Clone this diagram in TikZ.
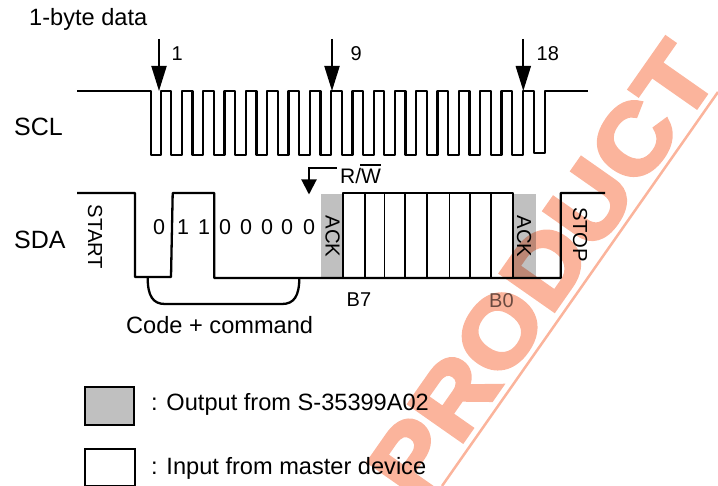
\documentclass[tikz,border=0pt]{standalone}
\usepackage{fontspec}
\setmainfont{Liberation Sans}
\newfontfamily\wmfont[FakeBold=4]{Liberation Sans Bold}
\usetikzlibrary{arrows.meta}
\definecolor{wm}{HTML}{FBB49C}
\definecolor{ackgrey}{HTML}{C0C0C0}
\definecolor{tinted}{HTML}{6B4A40}
\newcommand{\fsz}[1]{\fontsize{#1}{#1}\selectfont}
\tikzset{
  wave/.style={draw=black,line width=2.3pt,line join=round},
  slot/.style={draw=black,line width=1.6pt},
  dnarrow/.style={draw=black,line width=2pt,-{Triangle[length=25pt,width=15pt]}},
  rwarrow/.style={draw=black,line width=2pt,-{Triangle[length=15pt,width=15pt]}},
  lab/.style={inner sep=0pt,anchor=base west,text=black},
  big/.style={lab,font=\fsz{25}},
  mid/.style={lab,font=\fsz{23.6}},
  small/.style={lab,font=\fsz{20}},
  digit/.style={inner sep=0pt,anchor=base,font=\fsz{21.5}},
  vert/.style={inner sep=0pt,rotate=-90,font=\fsz{20.3}},
  wmtext/.style={inner sep=0pt,anchor=base east,rotate=55,text=wm,font=\wmfont\fsz{95},xscale=1.12},
  wmline/.style={draw=wm,line width=2.5pt},
}
\begin{document}
\begin{tikzpicture}[x=1pt,y=-1pt]
\useasboundingbox (0,0) rectangle (718,486);
% watermark
\node[wmtext] (wmark) at (720,74) {PRODUCT};
\coordinate (wl1) at (442,486); \coordinate (wl2) at (718,92);
\draw[wmline] (wl1) -- (wl2);
% grey ACK areas
\begin{scope}[blend mode=multiply]
\fill[ackgrey] (321,194) rectangle (343,278);
\fill[ackgrey] (513,194) rectangle (535.7,278);
\end{scope}
\begin{scope}[blend mode=normal]
% SCL waveform
\draw[wave] (77,91) -- (150.7,91) -- (150.7,155) -- (160.7,155) -- (160.7,91)
  foreach \k in {0,...,16} { -- ({171.3+21.3*\k},91) -- ({171.3+21.3*\k},155) -- ({182+21.3*\k},155) -- ({182+21.3*\k},91) }
  -- (534,91) -- (534,153) -- (545,153) -- (545,91) -- (588,91);
% SDA waveform
\draw[wave] (77,193) -- (135,193) -- (135,277) -- (171,277) -- (172.7,193) -- (214.3,193) -- (214.3,278) -- (560.7,278) -- (560.7,193) -- (605,193);
% data box
\draw[wave] (342.7,278) -- (342.7,193.3) -- (513.3,193.3) -- (513.3,278);
\foreach \x in {364.7,384.3,405,426.7,449.3,469.7,491}
  \draw[slot] (\x,193.3) -- (\x,278);
% clock arrows
\coordinate (a1s) at (159,39); \coordinate (a1e) at (159,91);
\coordinate (a9s) at (332,39); \coordinate (a9e) at (332,91);
\coordinate (a18s) at (523.3,39); \coordinate (a18e) at (523.3,91);
\draw[dnarrow] (a1s) -- (a1e);
\draw[dnarrow] (a9s) -- (a9e);
\draw[dnarrow] (a18s) -- (a18e);
% R/W arrow
\coordinate (rws) at (336.7,168.3); \coordinate (rwe) at (309,194.5);
\draw[rwarrow] (rws) -| (rwe);
% bracket
\coordinate (brl) at (147.7,278); \coordinate (brr) at (299.3,278);
\draw[wave] (brl) .. controls (147.7,296) and (153,304) .. (165,304) -- (282,304) .. controls (294,304) and (299.3,296) .. (brr);
% labels
\node[mid] (title) at (29,26) {1-byte data};
\node[small] (n1) at (171.5,60.7) {1};
\node[small] (n9) at (350.5,60.7) {9};
\node[small] (n18) at (536.5,60.7) {18};
\node[big] (scl) at (14,136) {SCL};
\node[big] (sda) at (14,249) {SDA};
\node[vert] (start) at (95,237) {START};
\node[vert] (ack1) at (332.7,236.5) {ACK};
\node[vert] (ack2) at (524,236.5) {ACK};
\node[vert] (stop) at (580,234.7) {STOP};
\foreach \x/\t/\n in {159/0/d1,183/1/d2,204/1/d3,225/0/d4,246/0/d5,267/0/d6,287/0/d7,309/0/d8}
  \node[digit] (\n) at (\x,235) {\t};
\node[small,font=\fsz{21}] (rw) at (340,184) {R/W};
\coordinate (ol) at (360,165); \coordinate (or) at (381,165);
\draw[black,line width=1.2pt] (ol) -- (or);
\node[small] (b7) at (346.5,306.7) {B7};
\node[small,text=tinted] (b0) at (489,307.7) {B0};
\node[mid] (code) at (126,334) {Code + command};
% legend
\node[draw=black,line width=2pt,fill=ackgrey,inner sep=0pt,minimum width=49pt,minimum height=38.3pt,anchor=north west] (lg1) at (83.7,386) {};
\node[draw=black,line width=2pt,fill=white,inner sep=0pt,minimum width=50pt,minimum height=36.7pt,anchor=north west] (lg2) at (83.7,448.3) {};
\node[mid] (lt1) at (151,410.7) {: Output from S-35399A02};
\node[mid] (lt2) at (151,474) {: Input from master device};
\end{scope}
\end{tikzpicture}
\end{document}
